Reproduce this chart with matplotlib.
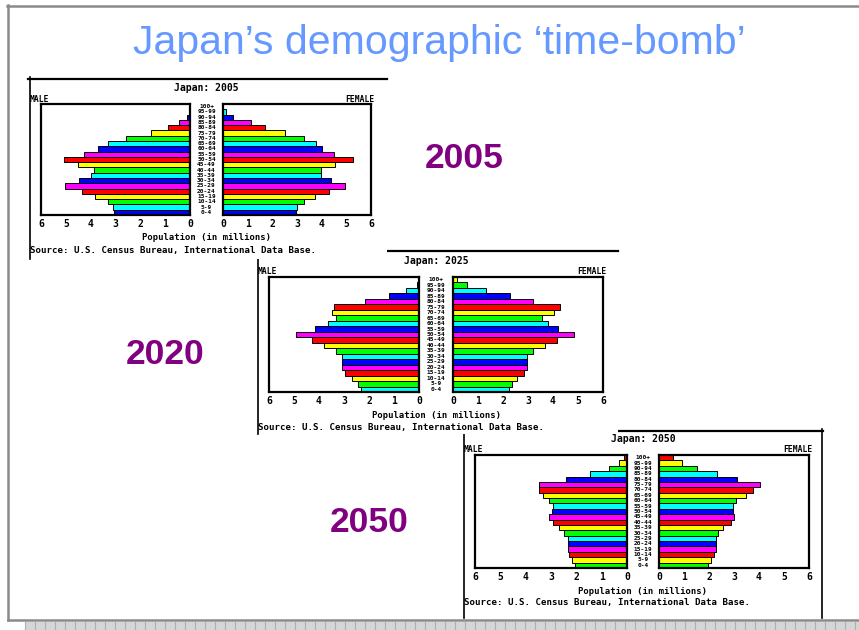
import matplotlib
matplotlib.use('Agg')  # no display
import matplotlib.pyplot as plt
import matplotlib.transforms as mtransforms
from matplotlib.patches import Rectangle

W, H = 859, 630  # slide size in pixels

age_groups = ['0-4', '5-9', '10-14', '15-19', '20-24', '25-29', '30-34', '35-39',
              '40-44', '45-49', '50-54', '55-59', '60-64', '65-69', '70-74', '75-79',
              '80-84', '85-89', '90-94', '95-99', '100+']
ticks = [0, 1, 2, 3, 4, 5, 6]
bar_colors = ['#0000ff', '#00ffff', '#00ff00', '#ffff00', '#ff0000', '#ff00ff']

# population in millions, youngest group first
male_2005 = [3.05, 3.09, 3.30, 3.83, 4.36, 5.05, 4.45, 3.99, 3.87, 4.49, 5.09,
             4.25, 3.69, 3.29, 2.56, 1.56, 0.87, 0.43, 0.12, 0.02, 0.0]
female_2005 = [2.97, 3.01, 3.28, 3.74, 4.28, 4.93, 4.39, 3.99, 3.96, 4.55, 5.27,
               4.50, 4.01, 3.78, 3.28, 2.50, 1.72, 1.12, 0.41, 0.14, 0.02]

male_2025 = [2.31, 2.43, 2.67, 2.96, 3.09, 3.07, 3.09, 3.31, 3.79, 4.27, 4.93,
             4.16, 3.63, 3.31, 3.47, 3.40, 2.16, 1.20, 0.51, 0.09, 0.01]
female_2025 = [2.24, 2.37, 2.57, 2.84, 2.97, 2.97, 2.97, 3.20, 3.68, 4.17, 4.84,
               4.21, 3.81, 3.57, 4.04, 4.27, 3.21, 2.27, 1.31, 0.57, 0.17]

male_2050 = [2.07, 2.18, 2.27, 2.34, 2.34, 2.34, 2.47, 2.70, 2.93, 3.06, 2.97,
             2.93, 3.06, 3.32, 3.46, 3.46, 2.40, 1.48, 0.73, 0.33, 0.10]
female_2050 = [1.97, 2.07, 2.20, 2.28, 2.28, 2.28, 2.37, 2.57, 2.87, 3.00, 2.95,
               2.95, 3.08, 3.47, 3.75, 4.04, 3.11, 2.31, 1.51, 0.91, 0.55]

slide_title = 'Japan\u2019s demographic \u2018time-bomb\u2019'
year_labels = ['2005', '2020', '2050']
source_text = 'Source: U.S. Census Bureau, International Data Base.'
axis_text = 'Population (in millions)'

# pixel layout of the three pasted pyramid images
# box = (left, top, right, bottom), mx = (x of 6, x of 0), fx = (x of 0, x of 6), py = (top, bottom)
pyramids = [
    dict(title='Japan: 2005', male=male_2005, female=female_2005, offset=0,
         box=(28, 77, 387, 259), mx=(41, 190), fx=(223, 371), py=(104, 215), z=3),
    dict(title='Japan: 2025', male=male_2025, female=female_2025, offset=1,
         box=(256, 249, 618, 434), mx=(269, 419), fx=(453, 603), py=(277, 392), z=2),
    dict(title='Japan: 2050', male=male_2050, female=female_2050, offset=2,
         box=(462, 429, 823, 618), mx=(475, 627), fx=(659, 809), py=(455, 568), z=1),
]
year_pos = [(464, 158), (165, 355), (369, 522)]

PIX = dict(family='DejaVu Sans Mono', weight='bold', color='black')


def px_axes(fig, x0, y0, x1, y1, z):
    """Axes placed by pixel box, its data coords are the slide pixels."""
    ax = fig.add_axes([x0 / W, 1 - y1 / H, (x1 - x0) / W, (y1 - y0) / H])
    ax.set_xlim(x0, x1)
    ax.set_ylim(y1, y0)
    ax.set_xticks([])
    ax.set_yticks([])
    for s in ax.spines.values():
        s.set_visible(False)
    ax.set_zorder(z)
    return ax


def draw_pyramid(fig, p):
    x0, y0, x1, y1 = p['box']
    canvas = px_axes(fig, x0, y0, x1, y1, p['z'])
    canvas.set_facecolor('white')
    # black frame of the pasted picture
    canvas.plot([x0, x1], [y0 + 1.5, y0 + 1.5], color='black', lw=1.6, clip_on=False)
    canvas.plot([x0 + 2, x0 + 2], [y0, y1], color='black', lw=1.2, clip_on=False)
    if p['z'] == 1:
        canvas.plot([x1 - 1.5, x1 - 1.5], [y0, y1], color='black', lw=1.2, clip_on=False)

    top, bot = p['py']
    cols = [bar_colors[(i + p['offset']) % 6] for i in range(len(age_groups))]
    rows = range(len(age_groups))

    axm = fig.add_axes([p['mx'][0] / W, 1 - bot / H, (p['mx'][1] - p['mx'][0]) / W, (bot - top) / H])
    axf = fig.add_axes([p['fx'][0] / W, 1 - bot / H, (p['fx'][1] - p['fx'][0]) / W, (bot - top) / H])
    for ax, vals in ((axm, p['male']), (axf, p['female'])):
        ax.set_zorder(p['z'] + 0.5)
        ax.barh(rows, vals, height=1.0, color=cols, edgecolor='black', linewidth=0.7)
        ax.set_ylim(-0.5, len(age_groups) - 0.5)
        ax.set_yticks([])
        ax.set_xticks(ticks)
        ax.set_xticklabels([str(t) for t in ticks], fontsize=7, **PIX)
        ax.tick_params(axis='x', length=0, pad=3)
        for s in ax.spines.values():
            s.set_linewidth(1.6)
    axm.set_xlim(6, 0)
    axf.set_xlim(0, 6)

    # age group labels in the gap, crammed like the low-res original
    mid = (p['mx'][1] + p['fx'][0]) / 2
    trans = mtransforms.blended_transform_factory(canvas.transData, axm.transData)
    for i, lab in enumerate(age_groups):
        canvas.text(mid, i, lab, transform=trans, ha='center', va='center',
                    fontsize=4.4, zorder=5, **PIX)

    canvas.text(mid, top - 16, p['title'], ha='center', va='center', fontsize=7, **PIX)
    canvas.text(x0 + 2, top - 5, 'MALE', ha='left', va='center', fontsize=5.8, **PIX)
    canvas.text(p['fx'][1] + 3, top - 5, 'FEMALE', ha='right', va='center', fontsize=5.8, **PIX)
    canvas.text(mid, bot + 23, axis_text, ha='center', va='center', fontsize=6.4, **PIX)
    canvas.text(x0 + 2, bot + 35, source_text, ha='left', va='center', fontsize=6.6, **PIX)


fig = plt.figure(figsize=(W / 100, H / 100), dpi=100)
fig.patch.set_facecolor('white')

bg = px_axes(fig, 0, 0, W, H, 0)
bg.set_facecolor('white')
# slide frame
bg.plot([7, W], [5.5, 5.5], color='#8a8a8a', lw=1.8)
bg.plot([8, 8], [5, 620], color='#8a8a8a', lw=1.8)
bg.plot([8, W], [619.5, 619.5], color='#8a8a8a', lw=1.8)
# patterned strip at the very bottom
bg.add_patch(Rectangle((25, 622), W - 25, 8, facecolor='#d6d6d6', edgecolor='none'))
for xs in range(25, W, 10):
    bg.plot([xs, xs], [622, 630], color='#b0b0b0', lw=0.8)

bg.text(439, 43, slide_title, ha='center', va='center', fontsize=29.5,
        family='Liberation Sans', color='#6699ff')

for p in reversed(pyramids):
    draw_pyramid(fig, p)

top = px_axes(fig, 0, 0, W, H, 10)
top.patch.set_alpha(0)
for lab, (x, y) in zip(year_labels, year_pos):
    top.text(x, y, lab, ha='center', va='center', fontsize=25.5, weight='bold',
             family='Liberation Sans', color='#800080')

fig.savefig('out.png', dpi=100)
